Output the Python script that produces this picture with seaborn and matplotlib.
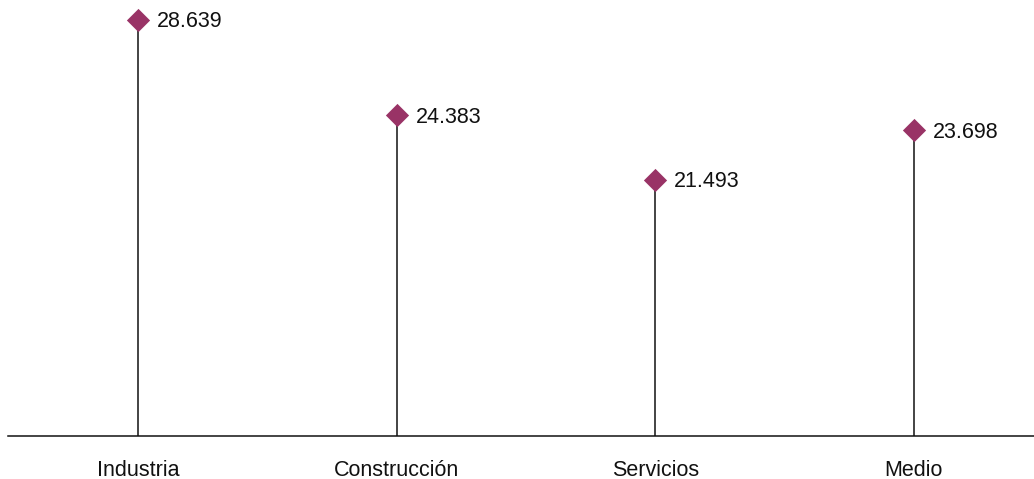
import matplotlib
matplotlib.use('Agg')
import matplotlib.pyplot as plt
import seaborn as sns
import pandas as pd

# Data
categories = ['Industria', 'Construcción', 'Servicios', 'Medio']
values = [28.639, 24.383, 21.493, 23.698]
labels = ['28.639', '24.383', '21.493', '23.698']

df = pd.DataFrame({'Sector': categories, 'Valor': values})

sns.set_style('white')
plt.rcParams['font.family'] = ['Liberation Sans', 'DejaVu Sans']

fig = plt.figure(figsize=(10.34, 4.79), dpi=100)
ax = fig.add_axes([8 / 1034, (479 - 436) / 479, 1 - 8 / 1034, 436 / 479])

color = '#993366'
base = 10.05

# stems
ax.vlines(range(len(categories)), base, df['Valor'], color='#111111', linewidth=1.1, zorder=1)
# markers
sns.scatterplot(data=df, x='Sector', y='Valor', marker='D', s=140, color=color,
                edgecolor=color, linewidth=0, ax=ax, zorder=3, legend=False)

for i, (v, t) in enumerate(zip(values, labels)):
    ax.annotate(t, (i, v), xytext=(19, -2), textcoords='offset pixels',
                ha='left', va='center', fontsize=15.5, color='#111111')

ax.set_xlim(-0.503, 3.465)
ax.set_ylim(base, base + 436 / 22.39)
ax.set_xlabel('')
ax.set_ylabel('')
ax.set_yticks([])
ax.tick_params(axis='x', length=0, pad=17, labelsize=15.5, colors='#111111')
for s in ['top', 'right', 'left']:
    ax.spines[s].set_visible(False)
ax.spines['bottom'].set_color('#111111')
ax.spines['bottom'].set_linewidth(1.1)

fig.savefig('out.png', dpi=100)
